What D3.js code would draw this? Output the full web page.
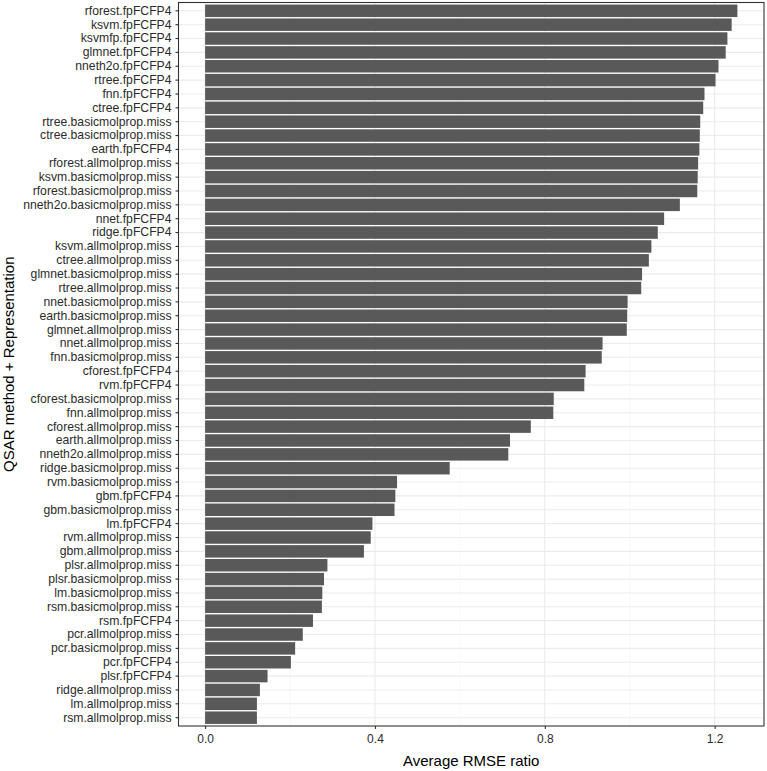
<!DOCTYPE html>
<html>
<head>
<meta charset="utf-8">
<script src="https://cdn.jsdelivr.net/npm/d3@7"></script>
<style>
  html, body { margin: 0; padding: 0; background: #fff; }
  svg { display: block; font-family: "Liberation Sans", Arial, Helvetica, sans-serif; }
</style>
</head>
<body>
<svg id="chart" width="767" height="771"></svg>
<script>
const categories = [
  "rforest.fpFCFP4", "ksvm.fpFCFP4", "ksvmfp.fpFCFP4", "glmnet.fpFCFP4", "nneth2o.fpFCFP4",
  "rtree.fpFCFP4", "fnn.fpFCFP4", "ctree.fpFCFP4", "rtree.basicmolprop.miss", "ctree.basicmolprop.miss",
  "earth.fpFCFP4", "rforest.allmolprop.miss", "ksvm.basicmolprop.miss", "rforest.basicmolprop.miss",
  "nneth2o.basicmolprop.miss", "nnet.fpFCFP4", "ridge.fpFCFP4", "ksvm.allmolprop.miss",
  "ctree.allmolprop.miss", "glmnet.basicmolprop.miss", "rtree.allmolprop.miss", "nnet.basicmolprop.miss",
  "earth.basicmolprop.miss", "glmnet.allmolprop.miss", "nnet.allmolprop.miss", "fnn.basicmolprop.miss",
  "cforest.fpFCFP4", "rvm.fpFCFP4", "cforest.basicmolprop.miss", "fnn.allmolprop.miss",
  "cforest.allmolprop.miss", "earth.allmolprop.miss", "nneth2o.allmolprop.miss", "ridge.basicmolprop.miss",
  "rvm.basicmolprop.miss", "gbm.fpFCFP4", "gbm.basicmolprop.miss", "lm.fpFCFP4", "rvm.allmolprop.miss",
  "gbm.allmolprop.miss", "plsr.allmolprop.miss", "plsr.basicmolprop.miss", "lm.basicmolprop.miss",
  "rsm.basicmolprop.miss", "rsm.fpFCFP4", "pcr.allmolprop.miss", "pcr.basicmolprop.miss", "pcr.fpFCFP4",
  "plsr.fpFCFP4", "ridge.allmolprop.miss", "lm.allmolprop.miss", "rsm.allmolprop.miss"
];
const rmseRatio = [
  1.2535, 1.240, 1.230, 1.226, 1.209,
  1.202, 1.176, 1.173, 1.166, 1.165,
  1.164, 1.161, 1.160, 1.159,
  1.118, 1.081, 1.066, 1.051,
  1.045, 1.029, 1.027, 0.995,
  0.994, 0.993, 0.936, 0.934,
  0.896, 0.893, 0.821, 0.820,
  0.767, 0.718, 0.714, 0.576,
  0.452, 0.448, 0.446, 0.394, 0.390,
  0.374, 0.288, 0.280, 0.276,
  0.275, 0.254, 0.230, 0.212, 0.202,
  0.147, 0.129, 0.122, 0.122
];
const majorTicks = [0.0, 0.4, 0.8, 1.2];
const minorTicks = [0.2, 0.6, 1.0];
const xTitle = "Average RMSE ratio";
const yTitle = "QSAR method + Representation";

const svg = d3.select("#chart");
const panel = { left: 178.5, right: 764, top: 2.5, bottom: 726 };

const maxV = d3.max(rmseRatio);
const pad = maxV * 0.05;
const x = d3.scaleLinear().domain([-pad, maxV + pad]).range([panel.left, panel.right]);

const n = categories.length;
const step = (panel.bottom - panel.top) / (n - 1 + 1.2);
const y = d3.scaleBand().domain(categories)
  .range([panel.top + 0.6 * step - step / 2, panel.bottom - 0.6 * step + step / 2])
  .paddingInner(0.1).paddingOuter(0.05);

const g = svg.append("g");

// gridlines
g.selectAll("line.minor").data(minorTicks).join("line")
  .attr("x1", d => x(d)).attr("x2", d => x(d))
  .attr("y1", panel.top).attr("y2", panel.bottom)
  .attr("stroke", "#F2F2F2").attr("stroke-width", 0.55);
g.selectAll("line.majorx").data(majorTicks).join("line")
  .attr("x1", d => x(d)).attr("x2", d => x(d))
  .attr("y1", panel.top).attr("y2", panel.bottom)
  .attr("stroke", "#EBEBEB").attr("stroke-width", 1.1);
g.selectAll("line.majory").data(categories).join("line")
  .attr("x1", panel.left).attr("x2", panel.right)
  .attr("y1", d => y(d) + y.bandwidth() / 2).attr("y2", d => y(d) + y.bandwidth() / 2)
  .attr("stroke", "#EBEBEB").attr("stroke-width", 1.1);

// bars
g.selectAll("rect.bar").data(categories).join("rect")
  .attr("x", x(0))
  .attr("y", d => y(d))
  .attr("width", (d, i) => x(rmseRatio[i]) - x(0))
  .attr("height", y.bandwidth())
  .attr("fill", "#595959");

// panel border
svg.append("rect")
  .attr("x", panel.left).attr("y", panel.top)
  .attr("width", panel.right - panel.left).attr("height", panel.bottom - panel.top)
  .attr("fill", "none").attr("stroke", "#333333").attr("stroke-width", 1.1);

// x axis
const xAxis = d3.axisBottom(x).tickValues(majorTicks).tickFormat(d3.format(".1f"))
  .tickSize(3).tickPadding(5);
const xg = svg.append("g").attr("transform", `translate(0,${panel.bottom})`).call(xAxis);
xg.select(".domain").remove();
xg.selectAll(".tick line").attr("stroke", "#333333").attr("stroke-width", 1.1);
xg.selectAll(".tick text").attr("fill", "#2b2b2b").style("font-size", "12px")
  .style("font-family", "'Liberation Sans', Arial, sans-serif");

// y axis
const yAxis = d3.axisLeft(y).tickSize(3).tickPadding(4);
const yg = svg.append("g").attr("transform", `translate(${panel.left},0)`).call(yAxis);
yg.select(".domain").remove();
yg.selectAll(".tick line").attr("stroke", "#333333").attr("stroke-width", 1.1);
yg.selectAll(".tick text").attr("fill", "#2b2b2b").style("font-size", "12.2px")
  .style("font-family", "'Liberation Sans', Arial, sans-serif");

// titles
svg.append("text")
  .attr("x", (panel.left + panel.right) / 2).attr("y", 766)
  .attr("text-anchor", "middle").attr("fill", "#000")
  .style("font-size", "15px").text(xTitle);
svg.append("text")
  .attr("transform", `translate(14,${(panel.top + panel.bottom) / 2}) rotate(-90)`)
  .attr("text-anchor", "middle").attr("fill", "#000")
  .style("font-size", "15px").text(yTitle);
</script>
</body>
</html>
